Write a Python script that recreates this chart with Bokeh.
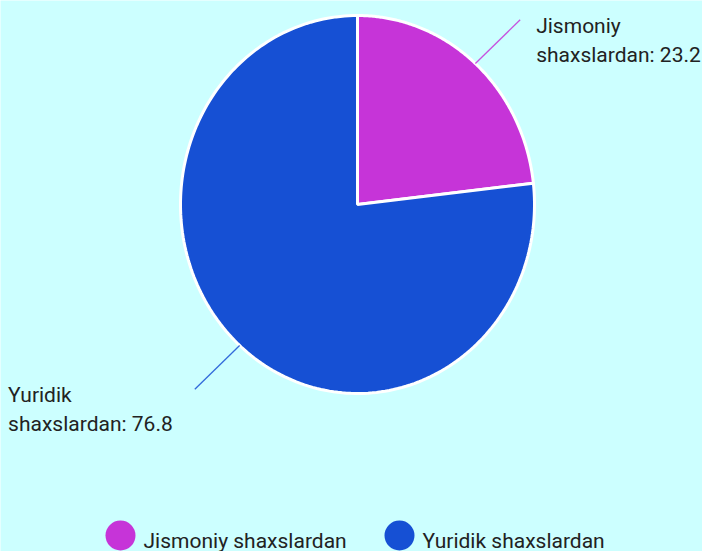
import numpy as np
from bokeh.plotting import figure
from bokeh.models import Range1d
from bokeh.core.properties import value
from bokeh.embed import file_html
from bokeh.resources import INLINE

# ---- data ----
categories = ["Jismoniy shaxslardan", "Yuridik shaxslardan"]
values = [23.2, 76.8]
label_first = ["Jismoniy", "Yuridik"]
label_second = ["shaxslardan: 23.2", "shaxslardan: 76.8"]

# ---- style ----
colors = ["#c634d8", "#1650d4"]
BG = "#ccffff"
TEXT = "#222222"
FONT = "Roboto"
FS = 21

W, H = 702, 551
CX, CY = 357, 204
RX, RY = 177, 189
EXT_X, EXT_Y = 1.38, 1.31

p = figure(width=W, height=H, output_backend="svg", toolbar_location=None,
           x_range=Range1d(0, W), y_range=Range1d(H, 0),
           x_axis_type=None, y_axis_type=None, min_border=0)
p.background_fill_color = BG
p.border_fill_color = BG
p.outline_line_color = None
p.grid.visible = False

vals = np.array(values, dtype=float)
frac = vals / vals.sum()
cum = np.concatenate([[0.0], np.cumsum(frac)])

xs, ys = [], []
for i in range(len(vals)):
    t = np.linspace(cum[i], cum[i + 1], 200)
    th = np.deg2rad(90 - 360 * t)
    xs.append(np.concatenate([[CX], CX + RX * np.cos(th)]).tolist())
    ys.append(np.concatenate([[CY], CY - RY * np.sin(th)]).tolist())

p.patches(xs=xs, ys=ys, fill_color=colors, line_color="white", line_width=3)

# connector lines and labels
mid = (cum[:-1] + cum[1:]) / 2
thm = np.deg2rad(90 - 360 * mid)
x0 = CX + RX * np.cos(thm)
y0 = CY - RY * np.sin(thm)
x1 = CX + RX * EXT_X * np.cos(thm)
y1 = CY - RY * EXT_Y * np.sin(thm)
p.segment(x0=x0, y0=y0, x1=x1, y1=y1, line_color=colors, line_width=1.3,
          line_alpha=0.85)

tx = []
for i in range(len(vals)):
    if np.cos(thm[i]) >= 0:
        tx.append(x1[i] + 16)
    else:
        width_est = max(len(label_first[i]), len(label_second[i])) * 0.467 * FS
        tx.append(x1[i] - 20 - width_est)
tx = np.array(tx)

p.text(x=tx, y=y1 + 6, text=label_first, text_font=value(FONT),
       text_font_size=f"{FS}px", text_color=TEXT, text_baseline="alphabetic",
       text_align="left")
p.text(x=tx, y=y1 + 35, text=label_second, text_font=value(FONT),
       text_font_size=f"{FS}px", text_color=TEXT, text_baseline="alphabetic",
       text_align="left")

# legend (drawn manually at bottom)
leg_x = [120, 399]
leg_y = 535
p.scatter(x=leg_x, y=[leg_y] * 2, size=30, fill_color=colors, line_color=None,
          marker="circle")
p.text(x=[x + 23 for x in leg_x], y=[leg_y + 5] * 2, text=categories,
       text_font=value(FONT), text_font_size=f"{FS}px", text_color=TEXT,
       text_baseline="alphabetic", text_align="left")

open("out.html", "w").write(file_html(p, INLINE))
